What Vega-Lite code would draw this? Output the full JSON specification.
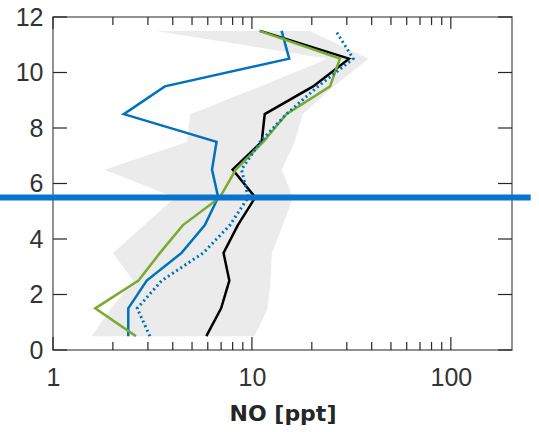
{
  "$schema": "https://vega.github.io/schema/vega-lite/v6.json",
  "autosize": "none",
  "width": 459,
  "height": 333,
  "padding": {"left": 53, "top": 17, "right": 27, "bottom": 82},
  "background": "white",
  "datasets": {
    "profiles": [
      {"alt": 0.5, "lo": 1.56, "hi": 10.3, "blue": 2.39, "bluedot": 3.07, "green": 2.61, "black": 5.9},
      {"alt": 1.5, "lo": 1.96, "hi": 12.0, "blue": 2.39, "bluedot": 2.65, "green": 1.63, "black": 7.0},
      {"alt": 2.5, "lo": 2.53, "hi": 12.4, "blue": 2.96, "bluedot": 3.52, "green": 2.69, "black": 7.7},
      {"alt": 3.5, "lo": 2.0, "hi": 12.6, "blue": 4.43, "bluedot": 5.7, "green": 3.45, "black": 7.2},
      {"alt": 4.5, "lo": 2.87, "hi": 14.3, "blue": 5.8, "bluedot": 7.75, "green": 4.5, "black": 8.5},
      {"alt": 5.5, "lo": 4.1, "hi": 16.1, "blue": 6.77, "bluedot": 9.58, "green": 6.9, "black": 10.4},
      {"alt": 6.5, "lo": 1.82, "hi": 14.1, "blue": 6.3, "bluedot": 8.87, "green": 8.3, "black": 8.0},
      {"alt": 7.5, "lo": 4.7, "hi": 16.4, "blue": 6.64, "bluedot": 11.0, "green": 11.4, "black": 11.2},
      {"alt": 8.5, "lo": 4.9, "hi": 18.0, "blue": 2.27, "bluedot": 14.9, "green": 14.9, "black": 11.6},
      {"alt": 9.5, "lo": 11.0, "hi": 25.8, "blue": 3.65, "bluedot": 21.5, "green": 24.7, "black": 20.3},
      {"alt": 10.5, "lo": 24.0, "hi": 38.5, "blue": 15.4, "bluedot": 32.3, "green": 27.7, "black": 30.8},
      {"alt": 11.5, "lo": 3.3, "hi": 19.6, "blue": 14.1, "bluedot": 26.4, "green": 10.9, "black": 11.0}
    ],
    "marker": [{"alt": 5.5, "start": 0.54, "end": 252}],
    "xmajor": [{"v": 1}, {"v": 10}, {"v": 100}],
    "xminor": [
      {"v": 2}, {"v": 3}, {"v": 4}, {"v": 5}, {"v": 6}, {"v": 7}, {"v": 8}, {"v": 9},
      {"v": 20}, {"v": 30}, {"v": 40}, {"v": 50}, {"v": 60}, {"v": 70}, {"v": 80}, {"v": 90}
    ],
    "yticks": [{"v": 0}, {"v": 2}, {"v": 4}, {"v": 6}, {"v": 8}, {"v": 10}, {"v": 12}]
  },
  "layer": [
    {
      "data": {"name": "profiles"},
      "mark": {"type": "area", "orient": "horizontal", "color": "#ebebeb"},
      "encoding": {
        "y": {
          "field": "alt", "type": "quantitative",
          "scale": {"domain": [0, 12], "nice": false, "zero": false},
          "axis": {
            "values": [0, 2, 4, 6, 8, 10, 12],
            "ticks": false,
            "domain": false,
            "grid": false,
            "labelPadding": 10,
            "title": null
          }
        },
        "x": {
          "field": "lo", "type": "quantitative",
          "scale": {"type": "log", "domain": [1, 203], "nice": false},
          "axis": {
            "values": [1, 10, 100],
            "format": "d",
            "labelOverlap": false,
            "ticks": false,
            "domain": false,
            "grid": false,
            "labelPadding": 15,
            "title": "NO [ppt]",
            "titlePadding": 13
          }
        },
        "x2": {"field": "hi"}
      }
    },
    {
      "data": {"name": "profiles"},
      "mark": {"type": "line", "color": "#000000", "strokeWidth": 2.5},
      "encoding": {
        "y": {"field": "alt", "type": "quantitative"},
        "x": {"field": "black", "type": "quantitative"},
        "order": {"field": "alt", "type": "quantitative"}
      }
    },
    {
      "data": {"name": "profiles"},
      "mark": {"type": "line", "color": "#0072BD", "strokeWidth": 2.5},
      "encoding": {
        "y": {"field": "alt", "type": "quantitative"},
        "x": {"field": "blue", "type": "quantitative"},
        "order": {"field": "alt", "type": "quantitative"}
      }
    },
    {
      "data": {"name": "profiles"},
      "mark": {"type": "line", "color": "#77AC30", "strokeWidth": 2.5},
      "encoding": {
        "y": {"field": "alt", "type": "quantitative"},
        "x": {"field": "green", "type": "quantitative"},
        "order": {"field": "alt", "type": "quantitative"}
      }
    },
    {
      "data": {"name": "profiles"},
      "mark": {"type": "line", "color": "#0072BD", "strokeWidth": 3, "strokeDash": [2, 3]},
      "encoding": {
        "y": {"field": "alt", "type": "quantitative"},
        "x": {"field": "bluedot", "type": "quantitative"},
        "order": {"field": "alt", "type": "quantitative"}
      }
    },
    {
      "data": {"name": "xmajor"},
      "mark": {"type": "tick", "orient": "vertical", "color": "#262626", "size": 13, "thickness": 1.2, "yOffset": -6.5, "opacity": 1},
      "encoding": {
        "x": {"field": "v", "type": "quantitative"},
        "y": {"datum": 0, "type": "quantitative"}
      }
    },
    {
      "data": {"name": "xmajor"},
      "mark": {"type": "tick", "orient": "vertical", "color": "#262626", "size": 12, "thickness": 1.2, "yOffset": 6, "opacity": 1},
      "encoding": {
        "x": {"field": "v", "type": "quantitative"},
        "y": {"datum": 12, "type": "quantitative"}
      }
    },
    {
      "data": {"name": "xminor"},
      "mark": {"type": "tick", "orient": "vertical", "color": "#262626", "size": 8, "thickness": 1.2, "yOffset": -4, "opacity": 1},
      "encoding": {
        "x": {"field": "v", "type": "quantitative"},
        "y": {"datum": 0, "type": "quantitative"}
      }
    },
    {
      "data": {"name": "xminor"},
      "mark": {"type": "tick", "orient": "vertical", "color": "#262626", "size": 8, "thickness": 1.2, "yOffset": 4, "opacity": 1},
      "encoding": {
        "x": {"field": "v", "type": "quantitative"},
        "y": {"datum": 12, "type": "quantitative"}
      }
    },
    {
      "data": {"name": "yticks"},
      "mark": {"type": "tick", "orient": "horizontal", "color": "#262626", "size": 14, "thickness": 1.2, "xOffset": 7, "opacity": 1},
      "encoding": {
        "y": {"field": "v", "type": "quantitative"},
        "x": {"datum": 1, "type": "quantitative"}
      }
    },
    {
      "data": {"name": "yticks"},
      "mark": {"type": "tick", "orient": "horizontal", "color": "#262626", "size": 14, "thickness": 1.2, "xOffset": -7, "opacity": 1},
      "encoding": {
        "y": {"field": "v", "type": "quantitative"},
        "x": {"datum": 203, "type": "quantitative"}
      }
    },
    {
      "data": {"name": "marker"},
      "mark": {"type": "rule", "color": "#0A72CF", "strokeWidth": 6, "clip": false},
      "encoding": {
        "y": {"field": "alt", "type": "quantitative"},
        "x": {"field": "start", "type": "quantitative"},
        "x2": {"field": "end"}
      }
    }
  ],
  "config": {
    "view": {"stroke": "#6e6e6e", "strokeWidth": 1.5},
    "axis": {
      "labelFont": "Liberation Sans",
      "labelFontSize": 25,
      "labelColor": "#333333",
      "labelFlush": false,
      "titleFont": "DejaVu Sans",
      "titleFontSize": 22,
      "titleFontWeight": "bold",
      "titleColor": "#262626"
    }
  }
}
